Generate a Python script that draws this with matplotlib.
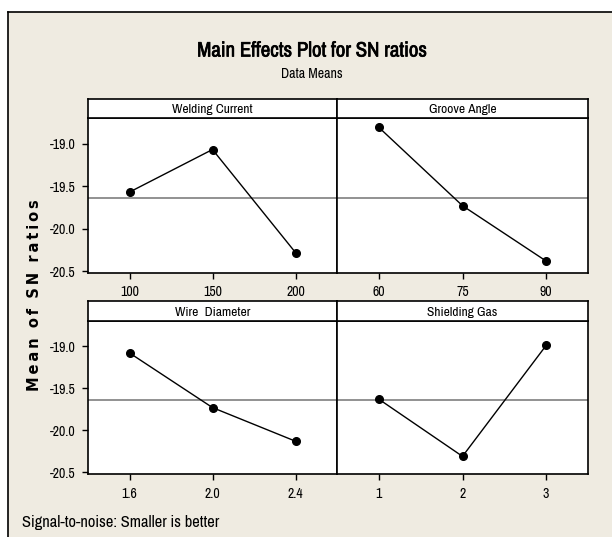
import matplotlib
matplotlib.use("Agg")
import matplotlib.pyplot as plt
from matplotlib import font_manager as fm
from matplotlib import patheffects as pe
from matplotlib.patches import Rectangle
from matplotlib.lines import Line2D

# ---- data ----
factors = ["Welding Current", "Groove Angle", "Wire  Diameter", "Shielding Gas"]
level_labels = [["100", "150", "200"], ["60", "75", "90"], ["1.6", "2.0", "2.4"], ["1", "2", "3"]]
welding_current = [-19.57, -19.07, -20.28]
groove_angle = [-18.81, -19.73, -20.38]
wire_diameter = [-19.08, -19.73, -20.13]
shielding_gas = [-19.63, -20.31, -18.99]
series = [welding_current, groove_angle, wire_diameter, shielding_gas]
grand_mean = -19.645
yticks = [-19.0, -19.5, -20.0, -20.5]
ytick_labels = ["-19.0", "-19.5", "-20.0", "-20.5"]

names = sorted({f.name for f in fm.fontManager.ttflist})
narrow = None
for n in names:
    if "Narrow" in n or "Condensed" in n:
        narrow = n
        break
if narrow is None:
    narrow = "Liberation Sans" if "Liberation Sans" in names else "DejaVu Sans"

W, H = 612, 537
fig = plt.figure(figsize=(W / 100, H / 100), dpi=100)
fig.patch.set_facecolor("white")

def fx(x):
    return x / W

def fy(y):
    return 1 - y / H

bg = "#EFEBE1"
fig.patches.append(Rectangle((fx(8), 0), 1 - fx(8), fy(12), transform=fig.transFigure,
                             facecolor=bg, edgecolor="none", zorder=-5))
fig.lines.append(Line2D([fx(8), fx(8)], [0, fy(12)], transform=fig.transFigure, color="black", lw=1.2, zorder=-4))
fig.lines.append(Line2D([fx(8), 1], [fy(12), fy(12)], transform=fig.transFigure, color="black", lw=1.2, zorder=-4))

cols = [(88, 337), (337, 588)]
rows = [((99, 118), (118, 273)), ((301, 321), (321, 474))]

for i in range(4):
    r, c = divmod(i, 2)
    x0, x1 = cols[c]
    (s0, s1), (d0, d1) = rows[r]
    ax = fig.add_axes([fx(x0), fy(d1), fx(x1) - fx(x0), fy(d0) - fy(d1)])
    sax = fig.add_axes([fx(x0), fy(s1), fx(x1) - fx(x0), fy(s0) - fy(s1)])
    for a in (ax, sax):
        a.set_facecolor("white")
        for sp in a.spines.values():
            sp.set_linewidth(1.2)
            sp.set_color("black")
    sax.set_xticks([]); sax.set_yticks([])
    sax.text(0.5, 0.45, factors[i], ha="center", va="center", transform=sax.transAxes,
             fontsize=9.7, family=narrow)

    xs = [1, 2, 3]
    ax.axhline(grand_mean, color="#7f7f7f", lw=1.2, zorder=1)
    ax.plot(xs, series[i], color="black", lw=1.0, marker="o", markersize=5.5, zorder=3)
    ax.set_xlim(0.5, 3.5)
    ax.set_ylim(-20.52, -18.70)
    ax.set_xticks(xs)
    ax.set_xticklabels(level_labels[i], fontsize=10, family=narrow)
    ax.set_yticks(yticks)
    if c == 0:
        ax.set_yticklabels(ytick_labels, fontsize=10, family=narrow)
    else:
        ax.tick_params(axis="y", left=False, labelleft=False)
    ax.tick_params(axis="both", direction="out", length=4, width=1, color="black", pad=5)

fig.text(0.51, fy(51), "Main Effects Plot for SN ratios", ha="center", va="center",
         fontsize=15, family=narrow,
         path_effects=[pe.withStroke(linewidth=0.5, foreground="black")])
fig.text(0.51, fy(74), "Data Means", ha="center", va="center", fontsize=10, family=narrow)
ylab = "  ".join("\u2009".join(w) for w in "Mean of SN ratios".split())
fig.text(fx(35), fy(295), ylab, rotation=90, ha="center", va="center",
         fontsize=10.5, fontweight="bold", family="DejaVu Sans")
fig.text(fx(22), fy(523), "Signal-to-noise: Smaller is better", ha="left", va="center",
         fontsize=11.8, family=narrow)

fig.savefig("out.png", dpi=100, facecolor=fig.get_facecolor())
